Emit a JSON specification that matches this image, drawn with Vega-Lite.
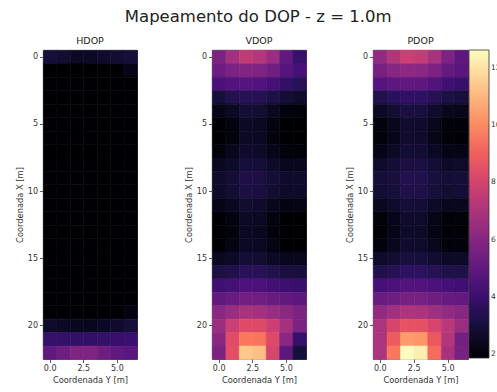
{
  "$schema": "https://vega.github.io/schema/vega-lite/v6.json",
  "background": "white",
  "padding": {"left": 14, "top": 8, "right": 2, "bottom": 2},
  "title": {"text": "Mapeamento do DOP - z = 1.0m", "fontSize": 16.5, "font": "DejaVu Sans", "fontWeight": "normal", "color": "#222222", "anchor": "middle", "offset": 10},
  "data": {"values": [
    {"X":0,"Y":0,"HDOP":2.95,"VDOP":5.7,"PDOP":6.3},{"X":0,"Y":1,"HDOP":2.85,"VDOP":6.7,"PDOP":7.1},{"X":0,"Y":2,"HDOP":2.6,"VDOP":7.5,"PDOP":7.8},{"X":0,"Y":3,"HDOP":2.6,"VDOP":7.2,"PDOP":7.6},{"X":0,"Y":4,"HDOP":2.75,"VDOP":6.5,"PDOP":6.9},{"X":0,"Y":5,"HDOP":2.85,"VDOP":5.0,"PDOP":5.7},{"X":0,"Y":6,"HDOP":2.95,"VDOP":3.9,"PDOP":4.9},
    {"X":1,"Y":0,"HDOP":1.6,"VDOP":5.3,"PDOP":5.6},{"X":1,"Y":1,"HDOP":1.5,"VDOP":5.7,"PDOP":6.0},{"X":1,"Y":2,"HDOP":1.4,"VDOP":5.9,"PDOP":6.2},{"X":1,"Y":3,"HDOP":1.4,"VDOP":5.8,"PDOP":6.1},{"X":1,"Y":4,"HDOP":1.5,"VDOP":5.4,"PDOP":5.7},{"X":1,"Y":5,"HDOP":1.7,"VDOP":4.7,"PDOP":5.1},{"X":1,"Y":6,"HDOP":2.3,"VDOP":4.3,"PDOP":4.8},
    {"X":2,"Y":0,"HDOP":1.4,"VDOP":4.4,"PDOP":4.7},{"X":2,"Y":1,"HDOP":1.3,"VDOP":4.6,"PDOP":4.9},{"X":2,"Y":2,"HDOP":1.2,"VDOP":4.7,"PDOP":5.0},{"X":2,"Y":3,"HDOP":1.2,"VDOP":4.6,"PDOP":4.9},{"X":2,"Y":4,"HDOP":1.3,"VDOP":4.3,"PDOP":4.6},{"X":2,"Y":5,"HDOP":1.4,"VDOP":3.8,"PDOP":4.1},{"X":2,"Y":6,"HDOP":1.6,"VDOP":3.5,"PDOP":3.9},
    {"X":3,"Y":0,"HDOP":1.2,"VDOP":3.0,"PDOP":3.3},{"X":3,"Y":1,"HDOP":1.1,"VDOP":3.35,"PDOP":3.6},{"X":3,"Y":2,"HDOP":1.0,"VDOP":3.5,"PDOP":3.75},{"X":3,"Y":3,"HDOP":1.0,"VDOP":3.45,"PDOP":3.7},{"X":3,"Y":4,"HDOP":1.1,"VDOP":3.2,"PDOP":3.45},{"X":3,"Y":5,"HDOP":1.2,"VDOP":2.9,"PDOP":3.2},{"X":3,"Y":6,"HDOP":1.3,"VDOP":2.75,"PDOP":3.05},
    {"X":4,"Y":0,"HDOP":1.1,"VDOP":2.3,"PDOP":2.6},{"X":4,"Y":1,"HDOP":1.0,"VDOP":2.6,"PDOP":2.85},{"X":4,"Y":2,"HDOP":0.95,"VDOP":2.9,"PDOP":3.1},{"X":4,"Y":3,"HDOP":0.95,"VDOP":2.85,"PDOP":3.05},{"X":4,"Y":4,"HDOP":1.0,"VDOP":2.5,"PDOP":2.75},{"X":4,"Y":5,"HDOP":1.1,"VDOP":2.1,"PDOP":2.4},{"X":4,"Y":6,"HDOP":1.2,"VDOP":2.0,"PDOP":2.35},
    {"X":5,"Y":0,"HDOP":1.0,"VDOP":1.7,"PDOP":2.1},{"X":5,"Y":1,"HDOP":0.95,"VDOP":2.15,"PDOP":2.4},{"X":5,"Y":2,"HDOP":0.9,"VDOP":2.6,"PDOP":2.8},{"X":5,"Y":3,"HDOP":0.9,"VDOP":2.55,"PDOP":2.75},{"X":5,"Y":4,"HDOP":0.95,"VDOP":2.15,"PDOP":2.4},{"X":5,"Y":5,"HDOP":1.0,"VDOP":1.6,"PDOP":2.0},{"X":5,"Y":6,"HDOP":1.1,"VDOP":1.5,"PDOP":1.95},
    {"X":6,"Y":0,"HDOP":1.0,"VDOP":1.6,"PDOP":2.0},{"X":6,"Y":1,"HDOP":0.95,"VDOP":2.1,"PDOP":2.35},{"X":6,"Y":2,"HDOP":0.9,"VDOP":2.6,"PDOP":2.8},{"X":6,"Y":3,"HDOP":0.9,"VDOP":2.55,"PDOP":2.75},{"X":6,"Y":4,"HDOP":0.95,"VDOP":2.1,"PDOP":2.35},{"X":6,"Y":5,"HDOP":1.0,"VDOP":1.55,"PDOP":1.95},{"X":6,"Y":6,"HDOP":1.1,"VDOP":1.5,"PDOP":1.9},
    {"X":7,"Y":0,"HDOP":1.0,"VDOP":2.0,"PDOP":2.3},{"X":7,"Y":1,"HDOP":0.95,"VDOP":2.4,"PDOP":2.6},{"X":7,"Y":2,"HDOP":0.9,"VDOP":2.75,"PDOP":2.9},{"X":7,"Y":3,"HDOP":0.9,"VDOP":2.7,"PDOP":2.85},{"X":7,"Y":4,"HDOP":0.95,"VDOP":2.35,"PDOP":2.55},{"X":7,"Y":5,"HDOP":1.0,"VDOP":2.0,"PDOP":2.25},{"X":7,"Y":6,"HDOP":1.1,"VDOP":1.95,"PDOP":2.25},
    {"X":8,"Y":0,"HDOP":1.0,"VDOP":2.5,"PDOP":2.7},{"X":8,"Y":1,"HDOP":0.95,"VDOP":2.7,"PDOP":2.9},{"X":8,"Y":2,"HDOP":0.9,"VDOP":3.0,"PDOP":3.15},{"X":8,"Y":3,"HDOP":0.9,"VDOP":2.95,"PDOP":3.1},{"X":8,"Y":4,"HDOP":0.95,"VDOP":2.7,"PDOP":2.9},{"X":8,"Y":5,"HDOP":1.0,"VDOP":2.45,"PDOP":2.65},{"X":8,"Y":6,"HDOP":1.1,"VDOP":2.45,"PDOP":2.7},
    {"X":9,"Y":0,"HDOP":1.0,"VDOP":2.75,"PDOP":2.95},{"X":9,"Y":1,"HDOP":0.95,"VDOP":2.9,"PDOP":3.05},{"X":9,"Y":2,"HDOP":0.9,"VDOP":3.2,"PDOP":3.35},{"X":9,"Y":3,"HDOP":0.9,"VDOP":3.15,"PDOP":3.3},{"X":9,"Y":4,"HDOP":0.95,"VDOP":2.9,"PDOP":3.05},{"X":9,"Y":5,"HDOP":1.0,"VDOP":2.75,"PDOP":2.9},{"X":9,"Y":6,"HDOP":1.1,"VDOP":2.75,"PDOP":2.95},
    {"X":10,"Y":0,"HDOP":1.0,"VDOP":2.7,"PDOP":2.9},{"X":10,"Y":1,"HDOP":0.95,"VDOP":2.85,"PDOP":3.0},{"X":10,"Y":2,"HDOP":0.9,"VDOP":3.15,"PDOP":3.3},{"X":10,"Y":3,"HDOP":0.9,"VDOP":3.1,"PDOP":3.25},{"X":10,"Y":4,"HDOP":0.95,"VDOP":2.85,"PDOP":3.0},{"X":10,"Y":5,"HDOP":1.0,"VDOP":2.7,"PDOP":2.85},{"X":10,"Y":6,"HDOP":1.1,"VDOP":2.7,"PDOP":2.9},
    {"X":11,"Y":0,"HDOP":1.0,"VDOP":2.3,"PDOP":2.5},{"X":11,"Y":1,"HDOP":0.95,"VDOP":2.5,"PDOP":2.7},{"X":11,"Y":2,"HDOP":0.9,"VDOP":2.8,"PDOP":2.95},{"X":11,"Y":3,"HDOP":0.9,"VDOP":2.75,"PDOP":2.9},{"X":11,"Y":4,"HDOP":0.95,"VDOP":2.45,"PDOP":2.65},{"X":11,"Y":5,"HDOP":1.0,"VDOP":2.2,"PDOP":2.4},{"X":11,"Y":6,"HDOP":1.1,"VDOP":2.2,"PDOP":2.45},
    {"X":12,"Y":0,"HDOP":1.0,"VDOP":1.7,"PDOP":2.0},{"X":12,"Y":1,"HDOP":0.95,"VDOP":2.15,"PDOP":2.35},{"X":12,"Y":2,"HDOP":0.9,"VDOP":2.6,"PDOP":2.75},{"X":12,"Y":3,"HDOP":0.9,"VDOP":2.55,"PDOP":2.7},{"X":12,"Y":4,"HDOP":0.95,"VDOP":2.15,"PDOP":2.35},{"X":12,"Y":5,"HDOP":1.0,"VDOP":1.7,"PDOP":1.95},{"X":12,"Y":6,"HDOP":1.1,"VDOP":1.65,"PDOP":2.0},
    {"X":13,"Y":0,"HDOP":1.0,"VDOP":1.6,"PDOP":1.9},{"X":13,"Y":1,"HDOP":0.95,"VDOP":2.1,"PDOP":2.3},{"X":13,"Y":2,"HDOP":0.9,"VDOP":2.55,"PDOP":2.7},{"X":13,"Y":3,"HDOP":0.9,"VDOP":2.5,"PDOP":2.65},{"X":13,"Y":4,"HDOP":0.95,"VDOP":2.05,"PDOP":2.25},{"X":13,"Y":5,"HDOP":1.0,"VDOP":1.6,"PDOP":1.9},{"X":13,"Y":6,"HDOP":1.1,"VDOP":1.55,"PDOP":1.9},
    {"X":14,"Y":0,"HDOP":1.0,"VDOP":1.75,"PDOP":2.05},{"X":14,"Y":1,"HDOP":0.95,"VDOP":2.2,"PDOP":2.4},{"X":14,"Y":2,"HDOP":0.9,"VDOP":2.6,"PDOP":2.75},{"X":14,"Y":3,"HDOP":0.9,"VDOP":2.55,"PDOP":2.7},{"X":14,"Y":4,"HDOP":0.95,"VDOP":2.2,"PDOP":2.4},{"X":14,"Y":5,"HDOP":1.0,"VDOP":1.75,"PDOP":2.0},{"X":14,"Y":6,"HDOP":1.1,"VDOP":1.7,"PDOP":2.05},
    {"X":15,"Y":0,"HDOP":1.0,"VDOP":2.5,"PDOP":2.7},{"X":15,"Y":1,"HDOP":0.95,"VDOP":2.65,"PDOP":2.85},{"X":15,"Y":2,"HDOP":0.9,"VDOP":2.9,"PDOP":3.05},{"X":15,"Y":3,"HDOP":0.9,"VDOP":2.85,"PDOP":3.0},{"X":15,"Y":4,"HDOP":0.95,"VDOP":2.6,"PDOP":2.8},{"X":15,"Y":5,"HDOP":1.0,"VDOP":2.45,"PDOP":2.65},{"X":15,"Y":6,"HDOP":1.1,"VDOP":2.4,"PDOP":2.65},
    {"X":16,"Y":0,"HDOP":1.1,"VDOP":3.15,"PDOP":3.3},{"X":16,"Y":1,"HDOP":1.0,"VDOP":3.3,"PDOP":3.45},{"X":16,"Y":2,"HDOP":0.95,"VDOP":3.55,"PDOP":3.7},{"X":16,"Y":3,"HDOP":0.95,"VDOP":3.5,"PDOP":3.65},{"X":16,"Y":4,"HDOP":1.0,"VDOP":3.3,"PDOP":3.45},{"X":16,"Y":5,"HDOP":1.1,"VDOP":3.1,"PDOP":3.3},{"X":16,"Y":6,"HDOP":1.2,"VDOP":3.05,"PDOP":3.25},
    {"X":17,"Y":0,"HDOP":1.2,"VDOP":4.1,"PDOP":4.3},{"X":17,"Y":1,"HDOP":1.1,"VDOP":4.25,"PDOP":4.45},{"X":17,"Y":2,"HDOP":1.0,"VDOP":4.5,"PDOP":4.65},{"X":17,"Y":3,"HDOP":1.0,"VDOP":4.45,"PDOP":4.6},{"X":17,"Y":4,"HDOP":1.1,"VDOP":4.25,"PDOP":4.45},{"X":17,"Y":5,"HDOP":1.2,"VDOP":4.05,"PDOP":4.25},{"X":17,"Y":6,"HDOP":1.3,"VDOP":3.95,"PDOP":4.15},
    {"X":18,"Y":0,"HDOP":1.4,"VDOP":5.0,"PDOP":5.2},{"X":18,"Y":1,"HDOP":1.3,"VDOP":5.2,"PDOP":5.35},{"X":18,"Y":2,"HDOP":1.2,"VDOP":5.45,"PDOP":5.6},{"X":18,"Y":3,"HDOP":1.2,"VDOP":5.4,"PDOP":5.55},{"X":18,"Y":4,"HDOP":1.3,"VDOP":5.2,"PDOP":5.35},{"X":18,"Y":5,"HDOP":1.4,"VDOP":5.0,"PDOP":5.15},{"X":18,"Y":6,"HDOP":1.6,"VDOP":4.85,"PDOP":5.05},
    {"X":19,"Y":0,"HDOP":1.7,"VDOP":6.1,"PDOP":6.3},{"X":19,"Y":1,"HDOP":1.6,"VDOP":6.5,"PDOP":6.7},{"X":19,"Y":2,"HDOP":1.5,"VDOP":6.9,"PDOP":7.05},{"X":19,"Y":3,"HDOP":1.5,"VDOP":6.8,"PDOP":6.95},{"X":19,"Y":4,"HDOP":1.6,"VDOP":6.45,"PDOP":6.65},{"X":19,"Y":5,"HDOP":1.75,"VDOP":6.1,"PDOP":6.3},{"X":19,"Y":6,"HDOP":2.15,"VDOP":5.7,"PDOP":6.0},
    {"X":20,"Y":0,"HDOP":2.7,"VDOP":6.5,"PDOP":7.0},{"X":20,"Y":1,"HDOP":2.6,"VDOP":7.8,"PDOP":8.1},{"X":20,"Y":2,"HDOP":2.45,"VDOP":8.35,"PDOP":8.6},{"X":20,"Y":3,"HDOP":2.45,"VDOP":8.3,"PDOP":8.55},{"X":20,"Y":4,"HDOP":2.55,"VDOP":7.8,"PDOP":8.1},{"X":20,"Y":5,"HDOP":2.75,"VDOP":6.8,"PDOP":7.3},{"X":20,"Y":6,"HDOP":2.95,"VDOP":5.7,"PDOP":6.5},
    {"X":21,"Y":0,"HDOP":3.9,"VDOP":6.1,"PDOP":7.0},{"X":21,"Y":1,"HDOP":3.85,"VDOP":8.4,"PDOP":8.9},{"X":21,"Y":2,"HDOP":3.8,"VDOP":9.6,"PDOP":10.4},{"X":21,"Y":3,"HDOP":3.8,"VDOP":9.5,"PDOP":10.3},{"X":21,"Y":4,"HDOP":3.85,"VDOP":8.3,"PDOP":8.8},{"X":21,"Y":5,"HDOP":3.9,"VDOP":6.1,"PDOP":7.2},{"X":21,"Y":6,"HDOP":4.0,"VDOP":3.9,"PDOP":5.5},
    {"X":22,"Y":0,"HDOP":5.0,"VDOP":5.7,"PDOP":7.0},{"X":22,"Y":1,"HDOP":5.35,"VDOP":8.5,"PDOP":9.6},{"X":22,"Y":2,"HDOP":5.8,"VDOP":11.4,"PDOP":12.6},{"X":22,"Y":3,"HDOP":5.8,"VDOP":11.2,"PDOP":12.3},{"X":22,"Y":4,"HDOP":5.35,"VDOP":8.1,"PDOP":9.3},{"X":22,"Y":5,"HDOP":5.0,"VDOP":4.9,"PDOP":6.9},{"X":22,"Y":6,"HDOP":4.8,"VDOP":3.0,"PDOP":5.6}
  ]},
  "spacing": 36,
  "hconcat": [
    {
      "spacing": 44,
      "hconcat": [
        {
          "title": {"text": "HDOP"},
          "width": 94, "height": 309,
          "mark": {"type": "rect", "binSpacing": 0, "strokeWidth": 0.6, "stroke": {"expr": "scale('color', datum.HDOP)"}},
          "encoding": {
            "x": {"field": "Y", "type": "quantitative", "bin": {"extent": [-0.5, 6.5], "step": 1, "nice": false}, "scale": {"domain": [-0.5, 6.5], "nice": false, "zero": false}, "axis": {"values": [0, 2.5, 5], "format": ".1f", "title": "Coordenada Y [m]"}},
            "y": {"field": "X", "type": "quantitative", "bin": {"extent": [-0.5, 22.5], "step": 1, "nice": false}, "scale": {"domain": [-0.5, 22.5], "reverse": true, "nice": false, "zero": false}, "axis": {"values": [0, 5, 10, 15, 20], "format": "d", "title": "Coordenada X [m]"}},
            "color": {"field": "HDOP", "type": "quantitative", "scale": {"scheme": "magma", "domain": [1.86, 12.63], "clamp": true}, "legend": null}
          }
        },
        {
          "title": {"text": "VDOP"},
          "width": 94, "height": 309,
          "mark": {"type": "rect", "binSpacing": 0, "strokeWidth": 0.6, "stroke": {"expr": "scale('color', datum.VDOP)"}},
          "encoding": {
            "x": {"field": "Y", "type": "quantitative", "bin": {"extent": [-0.5, 6.5], "step": 1, "nice": false}, "scale": {"domain": [-0.5, 6.5], "nice": false, "zero": false}, "axis": {"values": [0, 2.5, 5], "format": ".1f", "title": "Coordenada Y [m]"}},
            "y": {"field": "X", "type": "quantitative", "bin": {"extent": [-0.5, 22.5], "step": 1, "nice": false}, "scale": {"domain": [-0.5, 22.5], "reverse": true, "nice": false, "zero": false}, "axis": {"values": [0, 5, 10, 15, 20], "format": "d", "title": "Coordenada X [m]"}},
            "color": {"field": "VDOP", "type": "quantitative", "scale": {"scheme": "magma", "domain": [1.86, 12.63], "clamp": true}, "legend": null}
          }
        }
      ]
    },
    {
      "title": {"text": "PDOP"},
      "width": 95, "height": 309,
      "mark": {"type": "rect", "binSpacing": 0, "strokeWidth": 0.6, "stroke": {"expr": "scale('color', datum.PDOP)"}},
      "encoding": {
        "x": {"field": "Y", "type": "quantitative", "bin": {"extent": [-0.5, 6.5], "step": 1, "nice": false}, "scale": {"domain": [-0.5, 6.5], "nice": false, "zero": false}, "axis": {"values": [0, 2.5, 5], "format": ".1f", "title": "Coordenada Y [m]"}},
        "y": {"field": "X", "type": "quantitative", "bin": {"extent": [-0.5, 22.5], "step": 1, "nice": false}, "scale": {"domain": [-0.5, 22.5], "reverse": true, "nice": false, "zero": false}, "axis": {"values": [0, 5, 10, 15, 20], "format": "d", "title": "Coordenada X [m]"}},
        "color": {"field": "PDOP", "type": "quantitative", "scale": {"scheme": "magma", "domain": [1.86, 12.63], "clamp": true}, "legend": {"type": "gradient", "direction": "vertical", "title": null, "values": [2, 4, 6, 8, 10, 12]}}
      }
    }
  ],
  "resolve": {"scale": {"color": "shared"}, "legend": {"color": "independent"}},
  "config": {
    "font": "DejaVu Sans",
    "view": {"stroke": "#333333", "strokeWidth": 0.8},
    "title": {"font": "DejaVu Sans", "fontSize": 9.5, "fontWeight": "normal", "color": "#222222", "offset": 5},
    "axis": {"grid": false, "domain": false, "tickColor": "#333333", "tickSize": 3.5, "tickWidth": 0.8, "labelFont": "DejaVu Sans", "labelFontSize": 8, "labelColor": "#333333", "labelPadding": 2, "titleFont": "DejaVu Sans", "titleFontSize": 8.3, "titleFontWeight": "normal", "titleColor": "#333333", "titlePadding": 3},
    "legend": {"orient": "right", "offset": 1, "padding": 0, "gradientLength": 308, "gradientThickness": 20, "gradientStrokeColor": "#333333", "gradientStrokeWidth": 0.8, "labelFont": "DejaVu Sans", "labelFontSize": 7.5, "labelColor": "#333333", "labelOffset": 3}
  }
}
